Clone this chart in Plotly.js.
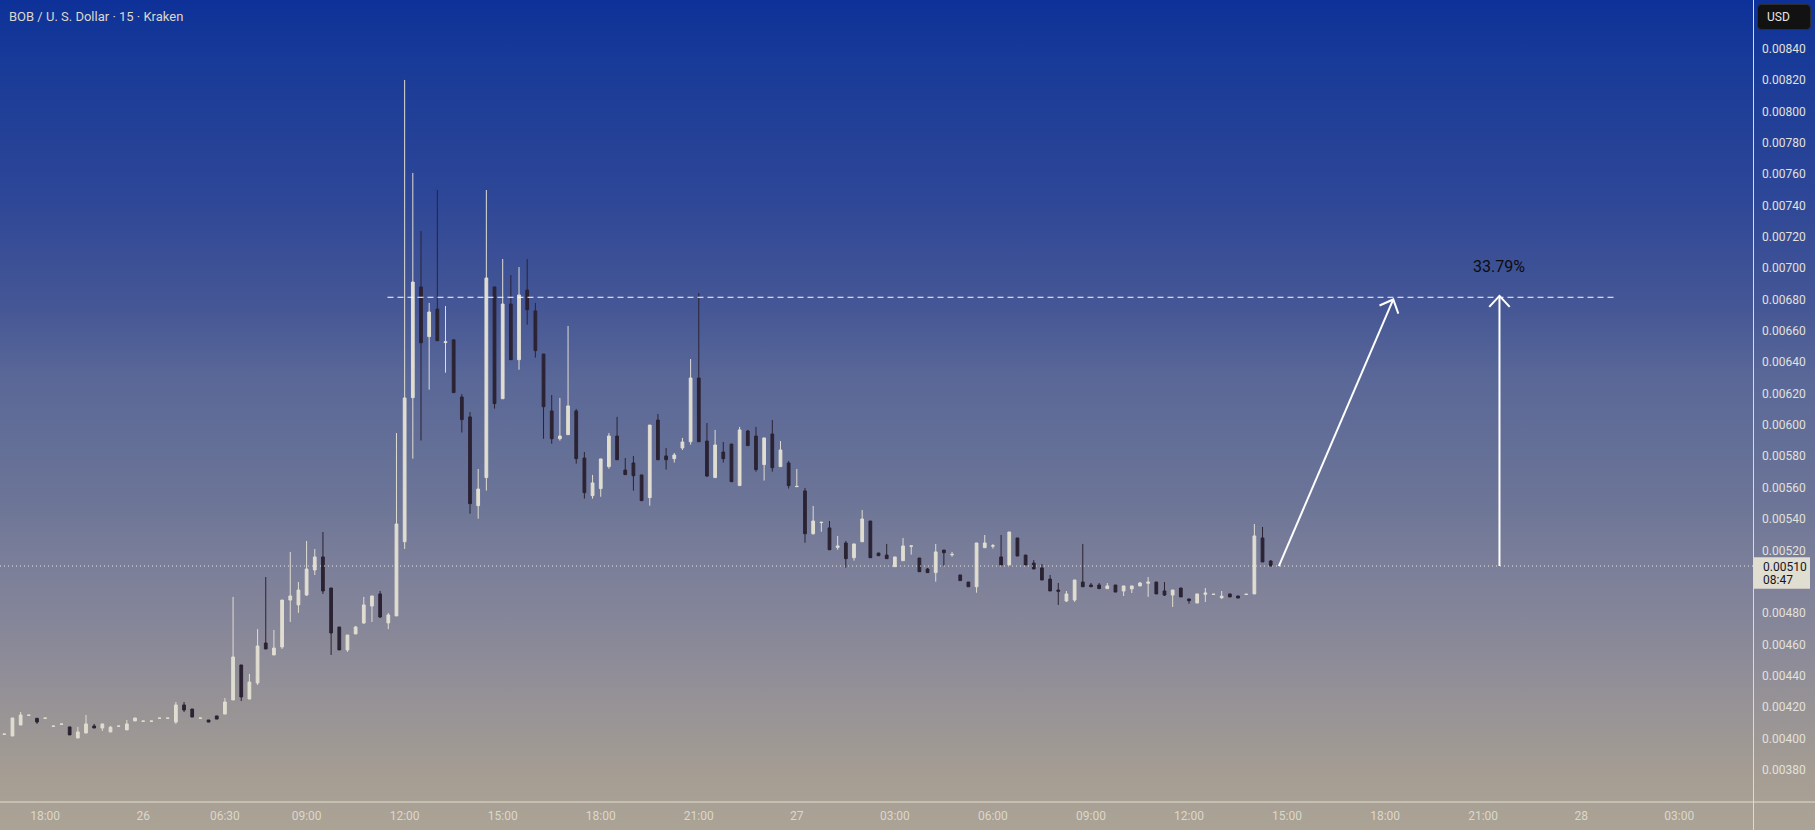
<!DOCTYPE html>
<html>
<head>
<meta charset="utf-8">
<script src="https://cdn.plot.ly/plotly-3.0.1.min.js"></script>
<style>
  html, body { margin: 0; padding: 0; }
  #chart {
    width: 1815px; height: 830px;
    background: linear-gradient(to bottom,
      #0d3198 0px, #183a98 60px, #2e4797 200px, #465795 310px,
      #5a6898 380px, #6c7597 500px, #7a7e99 560px, #878799 630px,
      #a69e93 780px, #aba395 830px);
  }
</style>
</head>
<body>
<div id="chart"></div>
<script>
// ---- data (BOB / USD, 15-minute bars, Kraken) ----
const openP = [
0.004027,0.004016,0.004086,0.004148,0.004129,0.004129,0.004078,0.004091,0.004074,0.004003,
0.004035,0.004080,0.004067,0.004042,0.004078,0.004055,0.004112,0.004110,0.004110,0.004129,
0.004129,0.004105,0.004214,0.004188,0.004129,0.004118,0.004144,0.004156,0.004246,0.004469,
0.004252,0.004354,0.004609,0.004533,0.004584,0.004883,0.004852,0.004915,0.005075,0.005158,
0.004960,0.004711,0.004565,0.004667,0.004737,0.004845,0.004922,0.004737,0.004782,0.005255,
0.006174,0.006880,0.006563,0.006739,0.006525,0.006542,0.006178,0.006051,0.005485,0.005664,
0.006880,0.006167,0.006771,0.006416,0.006860,0.006727,0.006452,0.006089,0.005912,0.005938,
0.006089,0.005789,0.005549,0.005594,0.005734,0.005929,0.005712,0.005757,0.005681,0.005536,
0.006031,0.005802,0.005785,0.005853,0.005893,0.006299,0.005897,0.005664,0.005827,0.005878,
0.005613,0.005961,0.005929,0.005747,0.005942,0.005734,0.005757,0.005606,0.005579,0.005306,
0.005377,0.005343,0.005219,0.005247,0.005153,0.005255,0.005387,0.005183,0.005170,0.005096,
0.005134,0.005226,0.005151,0.005081,0.005058,0.005202,0.005172,0.005043,0.004998,0.004968,
0.005217,0.005227,0.005158,0.005107,0.005279,0.005170,0.005119,0.005088,0.005017,0.004947,
0.004877,0.004883,0.004998,0.004979,0.004979,0.004956,0.004979,0.004941,0.004954,0.004973,
0.004990,0.004998,0.004941,0.004915,0.004960,0.004890,0.004864,0.004920,0.004919,0.004898,
0.004922,0.004909,0.004919,0.004922,0.005279,0.005132];
const highP = [
0.004028,0.004131,0.004169,0.004149,0.004129,0.004130,0.004079,0.004092,0.004074,0.004074,
0.004150,0.004093,0.004093,0.004080,0.004079,0.004118,0.004131,0.004111,0.004111,0.004130,
0.004130,0.004233,0.004233,0.004188,0.004130,0.004118,0.004144,0.004258,0.004903,0.004469,
0.004412,0.004698,0.005030,0.004692,0.004883,0.005190,0.004998,0.005260,0.005209,0.005317,
0.004960,0.004711,0.004660,0.004718,0.004903,0.004909,0.004941,0.004801,0.005948,0.008200,
0.007607,0.007237,0.006778,0.007498,0.006758,0.006548,0.006197,0.006082,0.005719,0.007498,
0.006880,0.007058,0.006956,0.007007,0.007058,0.006778,0.006452,0.006191,0.006172,0.006631,
0.006102,0.005827,0.005681,0.005783,0.005948,0.006051,0.005789,0.005802,0.005681,0.005999,
0.006070,0.005853,0.005821,0.005917,0.006420,0.006841,0.006012,0.005968,0.005891,0.005878,
0.005987,0.005968,0.005987,0.005917,0.006031,0.005897,0.005770,0.005719,0.005598,0.005483,
0.005379,0.005387,0.005292,0.005260,0.005241,0.005457,0.005387,0.005183,0.005241,0.005158,
0.005279,0.005228,0.005151,0.005088,0.005241,0.005202,0.005190,0.005043,0.004998,0.005247,
0.005298,0.005241,0.005298,0.005317,0.005279,0.005170,0.005138,0.005113,0.005043,0.004992,
0.004941,0.005011,0.005241,0.004992,0.004992,0.004992,0.004979,0.004973,0.004973,0.004998,
0.005030,0.004998,0.004998,0.004947,0.004960,0.004890,0.004922,0.004960,0.004920,0.004941,
0.004922,0.004909,0.004920,0.005368,0.005349,0.005138];
const lowP = [
0.004027,0.004016,0.004086,0.004148,0.004093,0.004129,0.004078,0.004091,0.004023,0.004003,
0.004035,0.004067,0.004048,0.004042,0.004078,0.004055,0.004112,0.004110,0.004110,0.004129,
0.004129,0.004093,0.004169,0.004137,0.004129,0.004105,0.004124,0.004156,0.004246,0.004239,
0.004252,0.004341,0.004571,0.004533,0.004571,0.004743,0.004801,0.004909,0.005043,0.004922,
0.004533,0.004565,0.004552,0.004667,0.004730,0.004743,0.004769,0.004698,0.004782,0.005209,
0.005785,0.005900,0.006225,0.006537,0.006333,0.006206,0.005951,0.005434,0.005402,0.005581,
0.006104,0.006167,0.006416,0.006352,0.006639,0.006429,0.005912,0.005880,0.005900,0.005938,
0.005753,0.005530,0.005530,0.005542,0.005721,0.005778,0.005683,0.005581,0.005517,0.005485,
0.005778,0.005715,0.005760,0.005840,0.005874,0.005893,0.005668,0.005664,0.005760,0.005638,
0.005613,0.005868,0.005702,0.005645,0.005702,0.005734,0.005594,0.005606,0.005249,0.005300,
0.005319,0.005204,0.005204,0.005090,0.005134,0.005255,0.005153,0.005166,0.005147,0.005096,
0.005134,0.005173,0.005064,0.005058,0.005000,0.005102,0.005160,0.005007,0.004968,0.004930,
0.005217,0.005211,0.005107,0.005107,0.005164,0.005107,0.005081,0.005011,0.004941,0.004852,
0.004871,0.004871,0.004968,0.004968,0.004956,0.004956,0.004934,0.004909,0.004928,0.004973,
0.004903,0.004922,0.004909,0.004839,0.004903,0.004860,0.004864,0.004871,0.004919,0.004890,
0.004903,0.004896,0.004919,0.004922,0.005126,0.005100];
const closeP = [
0.004028,0.004131,0.004150,0.004149,0.004105,0.004130,0.004079,0.004092,0.004023,0.004042,
0.004093,0.004067,0.004093,0.004072,0.004079,0.004093,0.004131,0.004111,0.004111,0.004130,
0.004130,0.004214,0.004182,0.004137,0.004130,0.004105,0.004124,0.004233,0.004520,0.004265,
0.004360,0.004590,0.004571,0.004577,0.004883,0.004909,0.004947,0.005081,0.005158,0.004941,
0.004673,0.004565,0.004660,0.004711,0.004852,0.004909,0.004775,0.004788,0.005368,0.006172,
0.006911,0.006524,0.006720,0.006537,0.006530,0.006206,0.006034,0.005498,0.005591,0.006937,
0.006136,0.006771,0.006416,0.006829,0.006735,0.006474,0.006116,0.005912,0.005929,0.006121,
0.005785,0.005568,0.005630,0.005783,0.005929,0.005778,0.005683,0.005676,0.005517,0.005999,
0.005778,0.005778,0.005808,0.005891,0.006299,0.005893,0.005674,0.005872,0.005785,0.005638,
0.005968,0.005868,0.005715,0.005917,0.005727,0.005840,0.005613,0.005608,0.005306,0.005387,
0.005379,0.005204,0.005228,0.005147,0.005241,0.005400,0.005153,0.005166,0.005147,0.005158,
0.005228,0.005228,0.005064,0.005058,0.005190,0.005185,0.005174,0.005007,0.004968,0.005247,
0.005247,0.005229,0.005107,0.005317,0.005164,0.005107,0.005081,0.005011,0.004941,0.004939,
0.004922,0.005011,0.004968,0.004968,0.004956,0.004973,0.004934,0.004973,0.004973,0.004992,
0.004998,0.004922,0.004915,0.004947,0.004903,0.004879,0.004922,0.004928,0.004920,0.004907,
0.004903,0.004896,0.004920,0.005292,0.005126,0.005100];

// time-axis labels (bar index -> label)
const tickBars   = [5, 17, 27, 37, 49, 61, 73, 85, 97, 109, 121, 133, 145, 157, 169, 181, 193, 205];
const tickLabels = ['18:00','26','06:30','09:00','12:00','15:00','18:00','21:00','27','03:00','06:00','09:00','12:00','15:00','18:00','21:00','28','03:00'];

// price-scale labels (0.00500 is hidden behind the last-price tag)
const priceTicks = [0.0038,0.0040,0.0042,0.0044,0.0046,0.0048,0.0052,0.0054,0.0056,0.0058,
                    0.0060,0.0062,0.0064,0.0066,0.0068,0.0070,0.0072,0.0074,0.0076,0.0078,
                    0.0080,0.0082,0.0084];
const priceTickText = priceTicks.map(v => v.toFixed(5));

// drawing levels
const targetLevel = 0.006814;   // dashed resistance line
const targetArrow = 0.006823;   // measured target (+33.79%)
const pctLabel = '33.79%';
const countdown = '08:47';

// ---- layout constants ----
const W = 1815, H = 830, MR = 62, MB = 29;
const PW = W - MR, PH = H - MB;
const xr = [-0.526, 214.03];
const yr = [0.0036015, 0.0087099];
const sx = PW / (xr[1] - xr[0]);
const sy = PH / (yr[1] - yr[0]);
const UP = '#e0ddd1', DOWN = '#2b2333';
const FONT = 'Roboto, "Liberation Sans", sans-serif';

const idx = openP.map((_, i) => i);
const lastI = idx.length - 1;
const lastClose = closeP[lastI];

const px = v => v / PW;              // canvas px -> paper x
const py = v => (PH - v) / PH;       // canvas px -> paper y

function arrowHead(tipX, tipY, dx, dy) {
  const L = Math.hypot(dx, dy);
  const bx = -dx / L, by = -dy / L;
  const a = 43 * Math.PI / 180, len = 15;
  const r = (ang) => [ (bx * Math.cos(ang) - by * Math.sin(ang)) * len,
                       (bx * Math.sin(ang) + by * Math.cos(ang)) * len ];
  const p1 = r(a), p2 = r(-a);
  return {
    type: 'path', xref: 'x', yref: 'y', xsizemode: 'pixel', ysizemode: 'pixel',
    xanchor: tipX, yanchor: tipY,
    path: `M${p1[0].toFixed(2)},${p1[1].toFixed(2)} L0,0 L${p2[0].toFixed(2)},${p2[1].toFixed(2)}`,
    line: { color: '#ffffff', width: 2 }
  };
}

const diagStart = [lastI + 1, lastClose], diagTip = [170, 0.0068];
const vertX = 183;

const shapes = [
  { type: 'line', xref: 'paper', yref: 'y', x0: 0, x1: 1, y0: lastClose, y1: lastClose,
    line: { color: '#ece8dc', width: 1, dash: '1px,3px' } },
  { type: 'line', xref: 'x', yref: 'y', x0: 46.9, x1: 197.1, y0: targetLevel, y1: targetLevel,
    line: { color: '#ffffff', width: 1, dash: '6px,4px' } },
  { type: 'line', xref: 'x', yref: 'y', x0: diagStart[0], y0: diagStart[1], x1: diagTip[0], y1: diagTip[1],
    line: { color: '#ffffff', width: 2 } },
  arrowHead(diagTip[0], diagTip[1], (diagTip[0] - diagStart[0]) * sx, (diagTip[1] - diagStart[1]) * sy),
  { type: 'line', xref: 'x', yref: 'y', x0: vertX, y0: lastClose, x1: vertX, y1: targetArrow,
    line: { color: '#ffffff', width: 2 } },
  arrowHead(vertX, targetArrow, 0, 1),
  { type: 'line', xref: 'paper', yref: 'paper', x0: px(PW + 0.5), x1: px(PW + 0.5), y0: py(H), y1: 1,
    line: { color: '#dcdad2', width: 1 } },
  { type: 'line', xref: 'paper', yref: 'paper', x0: 0, x1: px(W), y0: py(PH + 1), y1: py(PH + 1),
    line: { color: '#e2ded2', width: 1 } },
  { type: 'rect', xref: 'paper', yref: 'y', ysizemode: 'pixel', yanchor: lastClose,
    x0: px(PW + 0.5), x1: px(1810), y0: 8.8, y1: -22.8,
    fillcolor: '#e0ddd1', line: { width: 0 } },
  { type: 'path', xref: 'paper', yref: 'paper',
    path: (() => {
      const x0 = 1757.5, x1 = 1810.5, y0 = 4.5, y1 = 29.5, r = 4;
      return `M${px(x0 + r)},${py(y0)} L${px(x1 - r)},${py(y0)} Q${px(x1)},${py(y0)} ${px(x1)},${py(y0 + r)} ` +
             `L${px(x1)},${py(y1 - r)} Q${px(x1)},${py(y1)} ${px(x1 - r)},${py(y1)} ` +
             `L${px(x0 + r)},${py(y1)} Q${px(x0)},${py(y1)} ${px(x0)},${py(y1 - r)} ` +
             `L${px(x0)},${py(y0 + r)} Q${px(x0)},${py(y0)} ${px(x0 + r)},${py(y0)} Z`;
    })(),
    fillcolor: '#121212', line: { color: '#2e2e2e', width: 1 } }
];

const annotations = [
  { xref: 'paper', yref: 'paper', x: 0, y: 1, xanchor: 'left', yanchor: 'middle',
    xshift: 7, yshift: -16.5, showarrow: false,
    text: 'BOB / U. S. Dollar · 15 · Kraken',
    font: { family: FONT, size: 13, color: '#dbd8ce' } },
  { xref: 'paper', yref: 'paper', x: px(1765), y: py(17), xanchor: 'left', yanchor: 'middle',
    showarrow: false, text: 'USD', font: { family: FONT, size: 12, color: '#e6e6e6' } },
  { xref: 'paper', yref: 'y', x: px(1761), y: lastClose, xanchor: 'left', yanchor: 'middle',
    yshift: -0.5, showarrow: false, text: lastClose.toFixed(5),
    font: { family: FONT, size: 12, color: '#131722' } },
  { xref: 'paper', yref: 'y', x: px(1761), y: lastClose, xanchor: 'left', yanchor: 'middle',
    yshift: -14, showarrow: false, text: countdown,
    font: { family: FONT, size: 12, color: '#131722' } },
  { xref: 'x', yref: 'y', x: vertX, y: targetArrow, xanchor: 'center', yanchor: 'middle',
    yshift: 29, showarrow: false, text: pctLabel,
    font: { family: FONT, size: 16, color: '#0c0c0c' } }
];

const trace = {
  type: 'candlestick', x: idx, open: openP, high: highP, low: lowP, close: closeP,
  increasing: { line: { color: UP, width: 1 }, fillcolor: UP },
  decreasing: { line: { color: DOWN, width: 1 }, fillcolor: DOWN },
  whiskerwidth: 0, hoverinfo: 'skip', showlegend: false
};

const layout = {
  width: W, height: H, autosize: false,
  margin: { l: 0, r: MR, t: 0, b: MB, pad: 0 },
  paper_bgcolor: 'rgba(0,0,0,0)', plot_bgcolor: 'rgba(0,0,0,0)',
  boxgap: 0.52,
  showlegend: false,
  xaxis: {
    type: 'linear', range: xr, tickmode: 'array', tickvals: tickBars, ticktext: tickLabels,
    showgrid: false, zeroline: false, showline: false, ticks: '',
    ticklabelstandoff: 6,
    tickfont: { family: FONT, size: 12, color: '#dcd7cb' },
    rangeslider: { visible: false }, fixedrange: true
  },
  yaxis: {
    side: 'right', range: yr, tickmode: 'array', tickvals: priceTicks, ticktext: priceTickText,
    showgrid: false, zeroline: false, showline: false, ticks: '',
    ticklabelstandoff: 8,
    tickfont: { family: FONT, size: 12, color: '#e2e1dc' },
    fixedrange: true
  },
  shapes: shapes,
  annotations: annotations
};

Plotly.newPlot('chart', [trace], layout, { staticPlot: true });
</script>
</body>
</html>
